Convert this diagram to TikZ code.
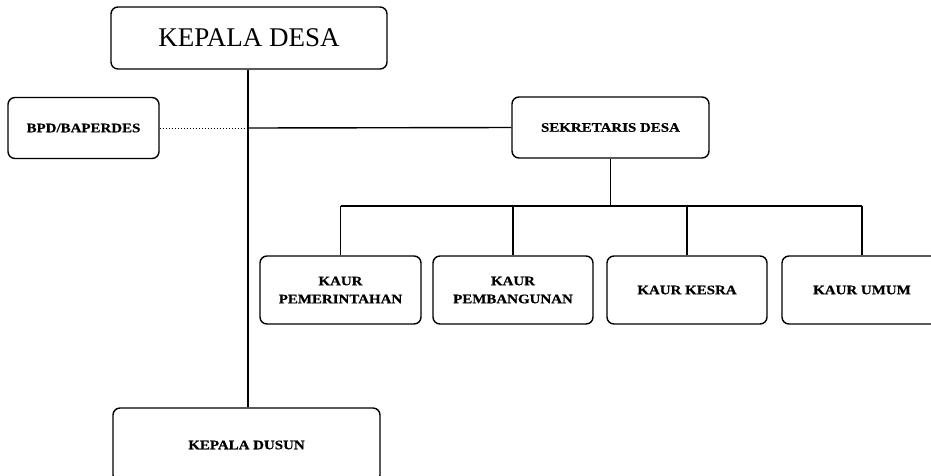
\documentclass[tikz,border=0pt]{standalone}
\usepackage{fontspec}
\setmainfont{Liberation Serif}
\newfontfamily\labfont[FakeStretch=1.15,FakeBold=0.6]{Liberation Serif Bold}
\begin{document}
\begin{tikzpicture}[x=1pt,y=-1pt,
  box/.style={draw,line width=1.4pt,rounded corners=7pt,inner sep=0pt,anchor=center},
  lab/.style={font=\labfont\fontsize{13}{18}\selectfont,align=center},
  conn/.style={line width=1.4pt},
  dots/.style={line width=1pt,dotted}]
\useasboundingbox (0,0) rectangle (931,475);
\clip (0,0) rectangle (931,475);
\node[box,minimum width=276pt,minimum height=62pt,font=\fontsize{27}{30}\selectfont] (kdesa) at (249,38) {KEPALA DESA};
\node[box,lab,minimum width=151pt,minimum height=61pt] (bpd) at (83.5,128) {BPD/BAPERDES};
\node[box,lab,minimum width=197pt,minimum height=61pt] (sek) at (610.5,127.5) {SEKRETARIS DESA};
\node[box,lab,minimum width=161pt,minimum height=68pt] (k1) at (340.5,290) {KAUR\\PEMERINTAHAN};
\node[box,lab,minimum width=160pt,minimum height=68pt] (k2) at (513,290) {KAUR\\PEMBANGUNAN};
\node[box,lab,minimum width=160pt,minimum height=68pt] (k3) at (687,290) {KAUR KESRA};
\node[box,lab,minimum width=160pt,minimum height=68pt] (k4) at (862,290) {KAUR UMUM};
\node[box,lab,minimum width=267pt,minimum height=74pt] (kdusun) at (246.5,445) {KEPALA DUSUN};
\coordinate (trunk) at (248,128);
\coordinate (bus) at (610.5,206);
\draw[conn] (kdesa.south -| trunk) -- (kdusun.north -| trunk);
\draw[dots] (bpd.east) -- (trunk);
\draw[conn] (trunk) -- (sek.west);
\draw[conn] (sek.south) -- (bus);
\draw[conn] (k1.north |- bus) -- (k4.north |- bus);
\foreach \k in {k1,k2,k3,k4} \draw[conn] (\k.north) -- (\k.north |- bus);
\end{tikzpicture}
\end{document}
